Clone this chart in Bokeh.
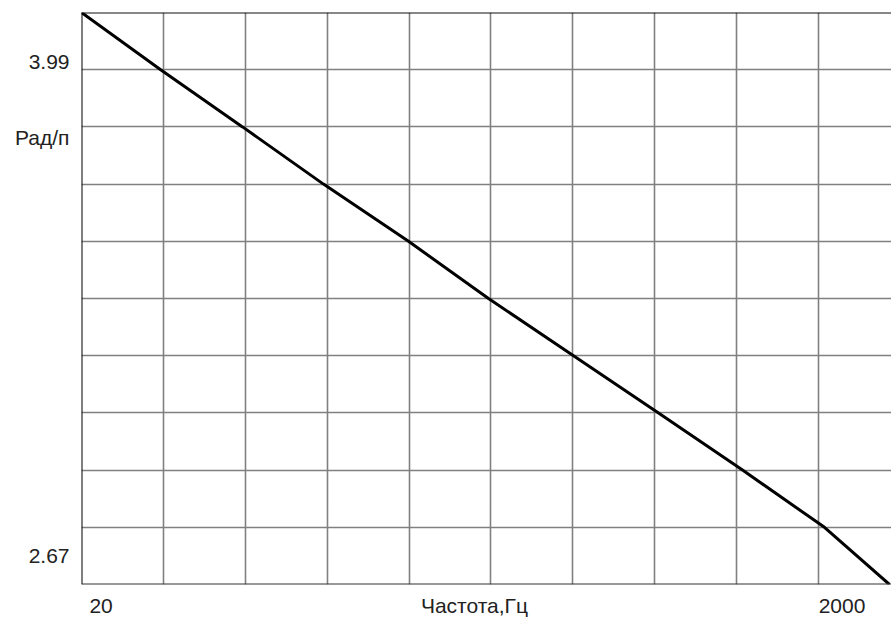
import numpy as np
from bokeh.plotting import figure
from bokeh.models import Range1d, FixedTicker, Span
from bokeh.embed import file_html
from bokeh.resources import INLINE

# data
freq = [20, 32.8, 54.7, 90.7, 154.3, 254.4, 432.7, 736, 1244, 2076, 3116]
phase = [4.155, 3.99, 3.825, 3.66, 3.495, 3.33, 3.165, 3.0, 2.835, 2.67, 2.505]

x_min, x_max = 20, 3156
y_min, y_max = 2.505, 4.155

# axis texts as they appear in the picture
y_texts = ["3.99", "Рад/п", "2.67"]
x_texts = ["20", "Частота,Гц", "2000"]

# where those texts sit along the axes (label placement)
y_text_pos = [4.014, 3.794, 2.589]
x_text_pos = [22.6, 233, 2317]

FONT = "Liberation Sans"
FS = "21px"

p = figure(width=891, height=619, x_axis_type="log",
           x_range=Range1d(x_min, x_max), y_range=Range1d(y_min, y_max),
           output_backend="svg", toolbar_location=None,
           min_border_left=81, min_border_right=0,
           min_border_top=12, min_border_bottom=35)
p.outline_line_color = None
p.background_fill_color = "white"
p.border_fill_color = "white"

# axes used only for their texts
p.yaxis.ticker = FixedTicker(ticks=y_text_pos)
p.yaxis.major_label_overrides = {v: t for v, t in zip(y_text_pos, y_texts)}
p.xaxis.ticker = FixedTicker(ticks=x_text_pos)
p.xaxis.major_label_overrides = {v: t for v, t in zip(x_text_pos, x_texts)}
for ax in (p.xaxis, p.yaxis):
    ax.axis_line_color = None
    ax.major_tick_line_color = None
    ax.minor_tick_line_color = None
    ax.major_tick_out = 0
    ax.major_tick_in = 0
    ax.minor_tick_out = 0
    ax.minor_tick_in = 0
    ax.major_label_text_font = FONT
    ax.major_label_text_font_size = FS
    ax.major_label_text_color = "#222222"
p.yaxis.major_label_standoff = 12
p.xaxis.major_label_standoff = 9

# grid: 10 equal divisions in both directions
xg = [20 * 100 ** (k / 9) for k in range(11)]
yg = list(np.linspace(y_min, y_max, 11))
p.xgrid.ticker = FixedTicker(ticks=xg)
p.ygrid.ticker = FixedTicker(ticks=yg)
for g in (p.xgrid, p.ygrid):
    g.grid_line_color = "#808080"
    g.grid_line_width = 1.6
    g.grid_line_alpha = 1

# frame borders (left, top, bottom)
p.add_layout(Span(location=x_min, dimension="height", line_color="#000000", line_width=2))
p.add_layout(Span(location=y_max, dimension="width", line_color="#111111", line_width=2))
p.add_layout(Span(location=y_min, dimension="width", line_color="#333333", line_width=2))

p.line(freq, phase, line_color="black", line_width=3)

open("out.html", "w").write(file_html(p, INLINE))
